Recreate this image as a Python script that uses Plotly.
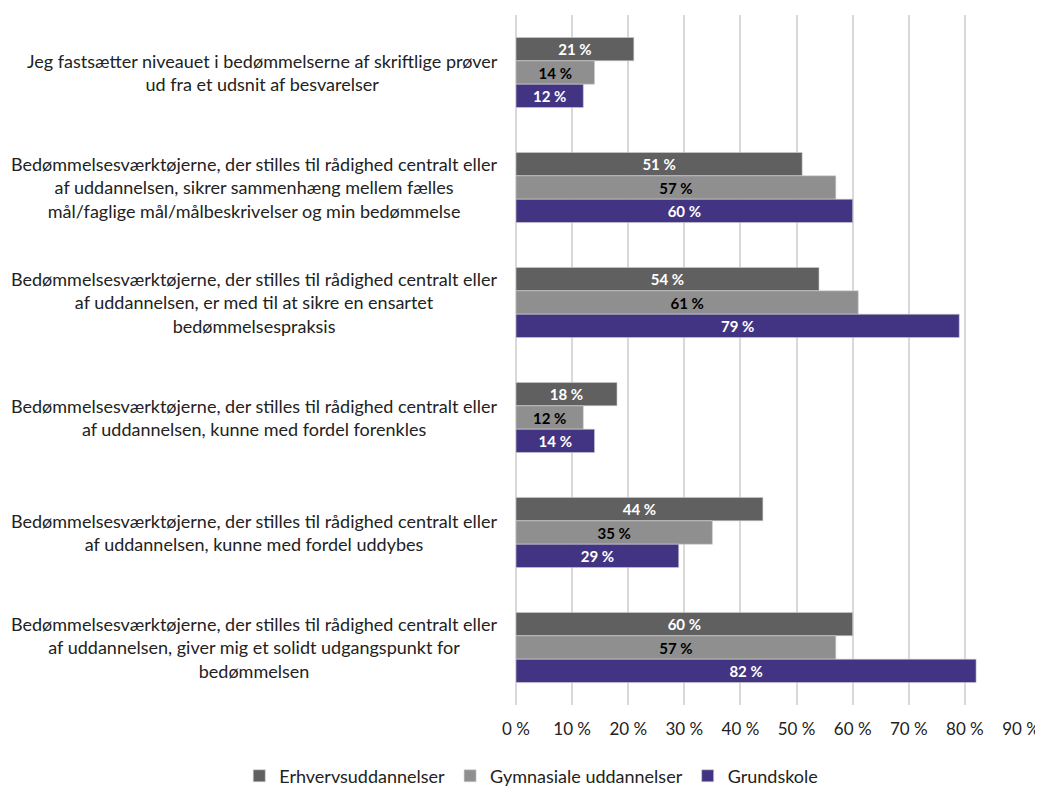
import plotly.graph_objects as go

# categories, top to bottom as in the chart
categories = [
    "Jeg fastsætter niveauet i bedømmelserne af skriftlige prøver<br>ud fra et udsnit af besvarelser",
    "Bedømmelsesværktøjerne, der stilles til rådighed centralt eller<br>af uddannelsen, sikrer sammenhæng mellem fælles<br>mål/faglige mål/målbeskrivelser og min bedømmelse",
    "Bedømmelsesværktøjerne, der stilles til rådighed centralt eller<br>af uddannelsen, er med til at sikre en ensartet<br>bedømmelsespraksis",
    "Bedømmelsesværktøjerne, der stilles til rådighed centralt eller<br>af uddannelsen, kunne med fordel forenkles",
    "Bedømmelsesværktøjerne, der stilles til rådighed centralt eller<br>af uddannelsen, kunne med fordel uddybes",
    "Bedømmelsesværktøjerne, der stilles til rådighed centralt eller<br>af uddannelsen, giver mig et solidt udgangspunkt for<br>bedømmelsen",
]

series_names = ["Erhvervsuddannelser", "Gymnasiale uddannelser", "Grundskole"]
erhverv = [21, 51, 54, 18, 44, 60]
gymnasiale = [14, 57, 61, 12, 35, 57]
grundskole = [12, 60, 79, 14, 29, 82]

x_ticks = [0, 10, 20, 30, 40, 50, 60, 70, 80, 90]
x_tick_labels = ["0 %", "10 %", "20 %", "30 %", "40 %", "50 %", "60 %", "70 %", "80 %", "90 %"]

FONT = "Lato, 'Noto Sans', sans-serif"

styles = [
    dict(color="#606060", text="white"),
    dict(color="#8f8f8f", text="black"),
    dict(color="#433483", text="white"),
]

fig = go.Figure()

for name, values, st in zip(series_names, [erhverv, gymnasiale, grundskole], styles):
    fig.add_trace(go.Bar(
        y=categories,
        x=values,
        name=name,
        orientation="h",
        marker=dict(color=st["color"], line=dict(color="#d0d0d0", width=0.6)),
        text=[f"<b>{v} %</b>" for v in values],
        textposition="inside",
        insidetextanchor="middle",
        textangle=0,
        constraintext="none",
        textfont=dict(color=st["text"], size=15, family=FONT),
        hoverinfo="skip",
    ))

# category labels as centred text blocks to the left of the plot
for cat in categories:
    fig.add_annotation(
        x=0, xref="paper", xanchor="right", xshift=-16,
        y=cat, yref="y",
        text=cat, showarrow=False, align="center",
        font=dict(size=18, color="#222222", family=FONT),
    )

fig.update_xaxes(
    range=[0, 90],
    tickvals=x_ticks,
    ticktext=x_tick_labels,
    showgrid=True,
    gridcolor="#d9d9d9",
    gridwidth=1.5,
    zeroline=True,
    zerolinecolor="#d9d9d9",
    zerolinewidth=1.5,
    showline=False,
    tickfont=dict(size=17, color="#222222", family=FONT),
    ticks="",
    ticklabelstandoff=12,
)
fig.update_yaxes(
    autorange="reversed",
    showticklabels=False,
    showgrid=False,
    zeroline=False,
)

# page body adds an 8px margin, so the figure is 8px smaller than the window
fig.update_layout(
    width=1035,
    height=779,
    barmode="group",
    bargap=0.39,
    bargroupgap=0,
    plot_bgcolor="white",
    paper_bgcolor="white",
    margin=dict(l=508, r=22, t=7, b=82, autoexpand=False),
    font=dict(family=FONT, color="#222222"),
    showlegend=True,
    legend=dict(
        orientation="h",
        x=-0.548, xanchor="left",
        y=-0.103, yanchor="middle",
        font=dict(size=18, family=FONT),
        traceorder="normal",
        itemwidth=30,
    ),
)

fig.write_html("out.html")
